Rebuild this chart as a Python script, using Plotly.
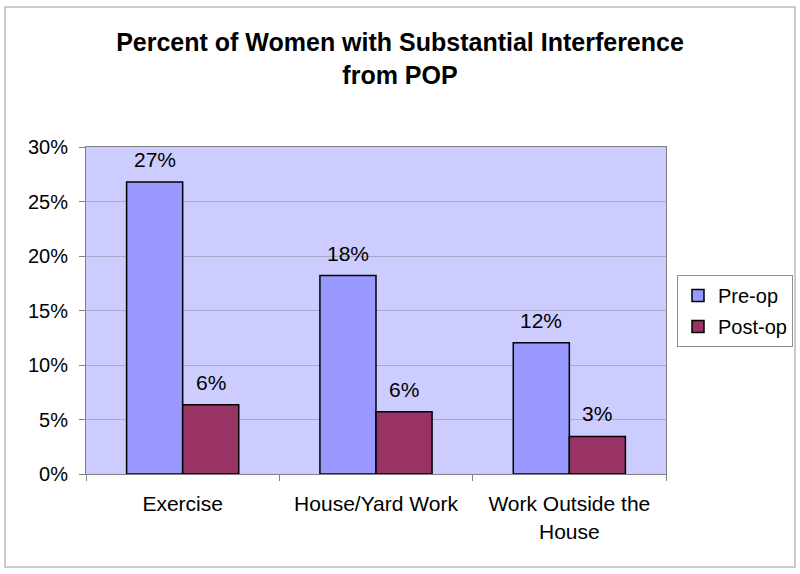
import plotly.graph_objects as go

categories = ["Exercise", "House/Yard Work", "Work Outside the<br>House"]
pre_op = [26.8, 18.2, 12.05]
post_op = [6.35, 5.7, 3.45]
pre_labels = ["27%", "18%", "12%"]
post_labels = ["6%", "6%", "3%"]
y_ticks = [0, 5, 10, 15, 20, 25, 30]
y_tick_labels = ["0%", "5%", "10%", "15%", "20%", "25%", "30%"]

FONT = "Arial, Liberation Sans, sans-serif"

fig = go.Figure()
fig.add_trace(go.Bar(name="Pre-op", x=categories, y=pre_op,
                     marker=dict(color="#9999FF", line=dict(color="#000000", width=1.5)),
                     legendgroup="a"))
fig.add_trace(go.Bar(name="Post-op", x=categories, y=post_op,
                     marker=dict(color="#993366", line=dict(color="#000000", width=1.5)),
                     legendgroup="b"))

for i, c in enumerate(categories):
    fig.add_annotation(x=c, y=pre_op[i], text=pre_labels[i], showarrow=False, xshift=-28, yshift=9,
                       yanchor="bottom", font=dict(size=21, color="black", family=FONT))
    fig.add_annotation(x=c, y=post_op[i], text=post_labels[i], showarrow=False, xshift=28, yshift=9,
                       yanchor="bottom", font=dict(size=21, color="black", family=FONT))

L, R, T, B = 86, 666, 147, 474
W, H = 800, 574
pw, ph = R - L, B - T

fig.add_shape(type="rect", xref="paper", yref="paper",
              x0=(5 - L) / pw, x1=(795 - L) / pw, y0=(B - 567) / ph, y1=(B - 7) / ph,
              line=dict(color="#BBBBBB", width=1.5), fillcolor="rgba(0,0,0,0)", layer="below")

fig.update_layout(
    width=W, height=H, autosize=False,
    margin=dict(l=L, r=W - R, t=T, b=H - B, pad=0, autoexpand=False),
    paper_bgcolor="white", plot_bgcolor="#CCCCFF",
    barmode="group", bargap=0.42, bargroupgap=0,
    font=dict(family=FONT, size=20, color="black"),
    title=dict(text="<b>Percent of Women with Substantial Interference<br>from POP</b>",
               x=0.5, xref="container", y=1 - 51 / H, yref="container", yanchor="middle",
               font=dict(size=25, family=FONT, color="black")),
    legend=dict(x=(677 - L) / pw, y=(B - 275) / ph, xanchor="left", yanchor="top",
                bordercolor="#909090", borderwidth=1, bgcolor="white",
                font=dict(size=20, family=FONT), tracegroupgap=2),
    xaxis=dict(showline=True, linecolor="#808080", linewidth=1, mirror=True,
               ticks="outside", tickson="boundaries", ticklen=6, tickcolor="#808080",
               tickfont=dict(size=21), showgrid=False, ticklabelstandoff=11),
    yaxis=dict(range=[0, 30], tickvals=y_ticks, ticktext=y_tick_labels, showline=True,
               linecolor="#808080", linewidth=1, mirror=True, ticks="outside", ticklen=6,
               tickcolor="#808080", gridcolor="#A8A8C8", gridwidth=1,
               tickfont=dict(size=20), zeroline=False, ticklabelstandoff=7),
)

fig.write_html(
    "out.html",
    config={"responsive": False, "displayModeBar": False},
    post_script="document.body.style.margin='0';document.documentElement.style.overflow='hidden';document.body.style.overflow='hidden';",
)
